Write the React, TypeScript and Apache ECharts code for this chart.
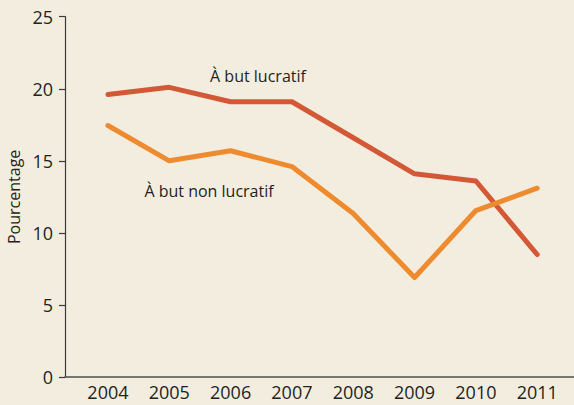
import React, { useEffect, useRef } from "react";
import * as echarts from "echarts";

const years = [2004, 2005, 2006, 2007, 2008, 2009, 2010, 2011];
const lucratif = [19.6, 20.1, 19.1, 19.1, 16.6, 14.1, 13.6, 8.5];
const nonLucratif = [17.45, 15.0, 15.7, 14.6, 11.35, 6.9, 11.55, 13.1];
const yTicks = [0, 5, 10, 15, 20, 25];

const FONT = "'Open Sans', 'Noto Sans', sans-serif";
const TEXT = "#231f20";

export default function App() {
  const ref = useRef<HTMLDivElement>(null);
  useEffect(() => {
    document.body.style.margin = "0";
    if (!ref.current) return;
    const chart = echarts.init(ref.current, null, { renderer: "svg" });
    chart.setOption({
      animation: false,
      backgroundColor: "#f3ede0",
      textStyle: { fontFamily: FONT },
      grid: { left: 65, right: 0, top: 16.7, bottom: 28, outerBoundsMode: "none" },
      xAxis: {
        type: "value",
        min: 2003.3,
        max: 2011.6,
        splitLine: { show: false },
        axisLine: { show: true, lineStyle: { color: "#4d4d4d", width: 1.5 } },
        axisTick: { show: false },
        axisLabel: {
          customValues: years,
          formatter: (v: number) => String(v),
          fontSize: 18,
          color: TEXT,
          fontFamily: FONT,
          margin: 6,
        },
      },
      yAxis: {
        type: "value",
        min: yTicks[0],
        max: yTicks[yTicks.length - 1],
        interval: 5,
        name: "Pourcentage",
        nameLocation: "middle",
        nameRotate: 90,
        nameGap: 37,
        nameTextStyle: { fontSize: 16, color: TEXT, fontFamily: FONT },
        splitLine: { show: false },
        axisLine: { show: true, lineStyle: { color: "#3a3a3a", width: 1.2 } },
        axisTick: { show: true, length: 6, lineStyle: { color: "#3a3a3a", width: 1.2 } },
        axisLabel: { fontSize: 18, color: TEXT, fontFamily: FONT, margin: 12 },
      },
      series: [
        {
          name: "À but lucratif",
          type: "line",
          data: years.map((y, i) => [y, lucratif[i]]),
          showSymbol: false,
          symbol: "none",
          lineStyle: { color: "#d35836", width: 5, cap: "round", join: "round" },
          z: 3,
        },
        {
          name: "À but non lucratif",
          type: "line",
          data: years.map((y, i) => [y, nonLucratif[i]]),
          showSymbol: false,
          symbol: "none",
          lineStyle: { color: "#ee8b2e", width: 5, cap: "round", join: "round" },
          z: 4,
        },
      ],
      graphic: [
        {
          type: "text",
          x: 258,
          y: 76,
          style: {
            text: "À but lucratif",
            fontSize: 16,
            fontFamily: FONT,
            fill: TEXT,
            align: "center",
            verticalAlign: "middle",
          },
        },
        {
          type: "text",
          x: 209,
          y: 191,
          style: {
            text: "À but non lucratif",
            fontSize: 16,
            fontFamily: FONT,
            fill: TEXT,
            align: "center",
            verticalAlign: "middle",
          },
        },
      ],
    });
    return () => chart.dispose();
  }, []);
  return <div ref={ref} style={{ width: 574, height: 405 }} />;
}
